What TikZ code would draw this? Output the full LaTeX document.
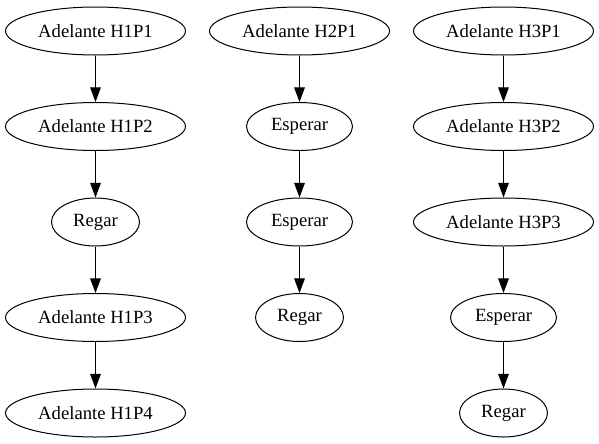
\documentclass[tikz,border=0pt]{standalone}
\usepackage{fontspec}
\setmainfont{Liberation Serif}
\usetikzlibrary{shapes.geometric,arrows.meta}
\begin{document}
\begin{tikzpicture}[x=0.75pt,y=0.75pt,paso/.style={shape=ellipse,draw=black,line width=0.75pt,inner sep=0pt,minimum height=36pt,font=\fontsize{14}{16}\selectfont},pasoA/.style={paso,minimum width=135pt},pasoE/.style={paso,minimum width=79.5pt},pasoR/.style={paso,minimum width=66pt},flecha/.style={line width=0.75pt,-{Triangle[length=11pt,width=8pt]}}]
\def\dy{-95.5};
\def\dx{204};
\def\xa{95.5};
\def\ya{-31};

\useasboundingbox (0,0) rectangle (599,-443);

\node[pasoA] (A1) at (\xa,\ya) {Adelante H1P1};
\node[pasoA] (A2) at (\xa,\ya+\dy) {Adelante H1P2};
\draw[flecha] (A1.south) -- (A2.north);
\node[pasoR] (R1) at (\xa,\ya+2*\dy) {Regar};
\draw[flecha] (A2.south) -- (R1.north);
\node[pasoA] (A3) at (\xa,\ya+3*\dy) {Adelante H1P3};
\draw[flecha] (R1.south) -- (A3.north);
\node[pasoA] (A4) at (\xa,\ya+4*\dy) {Adelante H1P4};
\draw[flecha] (A3.south) -- (A4.north);

\node[pasoA] (B1) at (\xa+\dx,\ya) {Adelante H2P1};
\node[pasoE] (E1) at (\xa+\dx,\ya+\dy) {Esperar};
\draw[flecha] (B1.south) -- (E1.north);
\node[pasoE] (E2) at (\xa+\dx,\ya+2*\dy) {Esperar};
\draw[flecha] (E1.south) -- (E2.north);
\node[pasoR] (R2) at (\xa+\dx,\ya+3*\dy) {Regar};
\draw[flecha] (E2.south) -- (R2.north);

\node[pasoA] (C1) at (\xa+2*\dx,\ya) {Adelante H3P1};
\node[pasoA] (C2) at (\xa+2*\dx,\ya+\dy) {Adelante H3P2};
\draw[flecha] (C1.south) -- (C2.north);
\node[pasoA] (C3) at (\xa+2*\dx,\ya+2*\dy) {Adelante H3P3};
\draw[flecha] (C2.south) -- (C3.north);
\node[pasoE] (E3) at (\xa+2*\dx,\ya+3*\dy) {Esperar};
\draw[flecha] (C3.south) -- (E3.north);
\node[pasoR] (R3) at (\xa+2*\dx,\ya+4*\dy) {Regar};
\draw[flecha] (E3.south) -- (R3.north);
\end{tikzpicture}
\end{document}
